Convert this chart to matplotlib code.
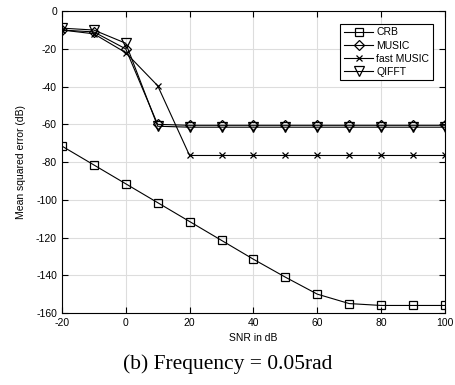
import matplotlib.pyplot as plt
import numpy as np

snr = [-20, -10, 0, 10, 20, 30, 40, 50, 60, 70, 80, 90, 100]
crb = [-71.5, -81.5, -91.5, -101.5, -111.5, -121.5, -131.5, -141, -150, -155, -156, -156, -156]
music = [-10, -11, -20, -60, -60.5, -60.5, -60.5, -60.5, -60.5, -60.5, -60.5, -60.5, -60.5]
fast_music = [-10, -12, -22, -39.5, -76.5, -76.5, -76.5, -76.5, -76.5, -76.5, -76.5, -76.5, -76.5]
qifft = [-9, -10, -17, -61, -61.5, -61.5, -61.5, -61.5, -61.5, -61.5, -61.5, -61.5, -61.5]

plt.rcParams['font.family'] = ['Liberation Sans', 'DejaVu Sans']
plt.rcParams['axes.unicode_minus'] = False

fig = plt.figure(figsize=(4.55, 3.85), dpi=100)
ax = fig.add_axes([0.136, 0.187, 0.842, 0.784])

ax.plot(snr, crb, color='black', lw=0.8, marker='s', ms=5.5, mfc='none', mew=0.9, label='CRB')
ax.plot(snr, music, color='black', lw=0.8, marker='D', ms=5.5, mfc='none', mew=0.9, label='MUSIC')
ax.plot(snr, fast_music, color='black', lw=0.8, marker='x', ms=4.5, mew=0.9, label='fast MUSIC')
ax.plot(snr, qifft, color='black', lw=0.8, marker='v', ms=6.5, mfc='none', mew=0.9, label='QIFFT')

ax.set_xlim(-20, 100)
ax.set_ylim(-160, 0)
ax.set_xticks(np.arange(-20, 101, 20))
ax.set_yticks(np.arange(-160, 1, 20))
ax.grid(color='#dddddd', lw=0.8)
ax.set_axisbelow(True)
ax.tick_params(direction='in', labelsize=7.5, length=4, top=True, right=True)
for sp in ax.spines.values():
    sp.set_linewidth(0.8)

ax.set_xlabel('SNR in dB', fontsize=7.5, labelpad=4)
ax.set_ylabel('Mean squared error (dB)', fontsize=7.5, labelpad=7)

leg = ax.legend(loc='upper right', bbox_to_anchor=(0.974, 0.965), fontsize=7.5,
                fancybox=False, edgecolor='black', framealpha=1,
                handlelength=2.8, borderpad=0.35, labelspacing=0.3, handletextpad=0.3,
                borderaxespad=0.2)
leg.get_frame().set_linewidth(0.8)

fig.text(0.5, 0.055, '(b) Frequency = 0.05rad', ha='center', va='center',
         fontsize=15.5, family=['Liberation Serif', 'DejaVu Serif'])

fig.savefig('out.png', dpi=100)
